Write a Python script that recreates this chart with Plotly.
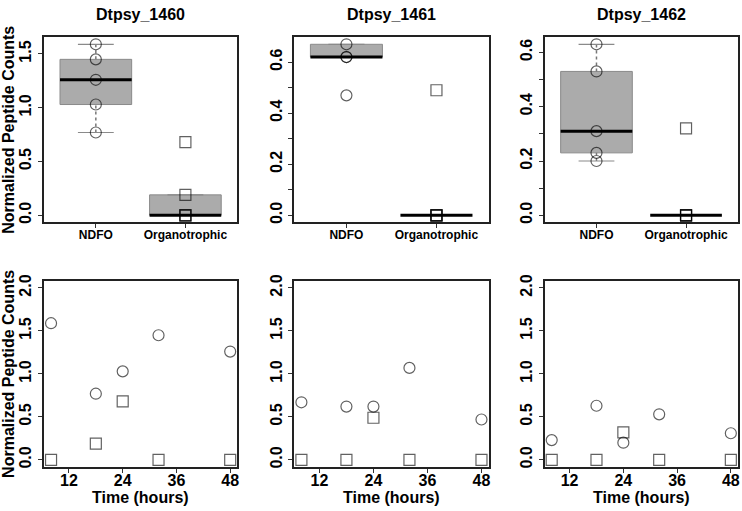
import numpy as np
import plotly.graph_objects as go

# ---------------- data ----------------
proteins = ["Dtpsy_1460", "Dtpsy_1461", "Dtpsy_1462"]
conditions = ["NDFO", "Organotrophic"]
time_hours = [8, 18, 24, 32, 48]

ndfo_1460 = [1.59, 0.77, 1.03, 1.45, 1.26]
org_1460 = [0.0, 0.19, 0.68, 0.0, 0.0]
ndfo_1461 = [0.67, 0.62, 0.62, 1.07, 0.47]
org_1461 = [0.0, 0.0, 0.49, 0.0, 0.0]
ndfo_1462 = [0.23, 0.63, 0.20, 0.53, 0.31]
org_1462 = [0.0, 0.0, 0.32, 0.0, 0.0]

time_ticks = [12, 24, 36, 48]
time_ticklabels = ["12", "24", "36", "48"]
bottom_yticks = [0.0, 0.5, 1.0, 1.5, 2.0]
bottom_yticklabels = ["0.0", "0.5", "1.0", "1.5", "2.0"]
top_yticks_1460 = [0.0, 0.5, 1.0, 1.5]
top_yticklabels_1460 = ["0.0", "0.5", "1.0", "1.5"]
top_yticks_small = [0.0, 0.1, 0.2, 0.3, 0.4, 0.5, 0.6]
top_yticklabels_small = ["0.0", "", "0.2", "", "0.4", "", "0.6"]
bottom_yrange = [0.0, 2.0]

ndfo_sets = [ndfo_1460, ndfo_1461, ndfo_1462]
org_sets = [org_1460, org_1461, org_1462]
top_ticks = [(top_yticks_1460, top_yticklabels_1460),
             (top_yticks_small, top_yticklabels_small),
             (top_yticks_small, top_yticklabels_small)]

# ---------------- helpers ----------------
def fivenum(v):
    x = np.sort(np.asarray(v, float))
    n = len(x)
    n4 = np.floor((n + 3) / 2) / 2
    d = np.array([1, n4, (n + 1) / 2, n + 1 - n4, n]) - 1
    return 0.5 * (x[np.floor(d).astype(int)] + x[np.ceil(d).astype(int)])


def box_stats(v):
    x = np.asarray(v, float)
    _, q1, med, q3, _ = fivenum(x)
    iqr = q3 - q1
    lo = x[x >= q1 - 1.5 * iqr].min()
    hi = x[x <= q3 + 1.5 * iqr].max()
    return lo, q1, med, q3, hi


W, H = 742, 511
cols_px = [(44, 238), (295, 490), (546, 740)]
top_px = (31, 219)
bot_px = (279, 468)

FONT = "Liberation Sans"
BOX_FILL = "#ababab"
BOX_LINE = "#8a8a8a"
PT_COL = "rgba(0,0,0,0.62)"
FRAME = "#222222"

fig = go.Figure()


def xd(c):
    return [c[0] / W, c[1] / W]


def yd(r):
    return [1 - r[1] / H, 1 - r[0] / H]


layout = dict(
    width=W, height=H, margin=dict(l=0, r=0, t=0, b=0),
    paper_bgcolor="white", plot_bgcolor="white", showlegend=False,
    font=dict(family=FONT, color="black"),
)

annotations = []
box_w = 0.8
staple_w = 0.4

for i in range(3):
    ax_top = i + 1
    ax_bot = i + 4
    xs_t = "x" if ax_top == 1 else f"x{ax_top}"
    ys_t = "y" if ax_top == 1 else f"y{ax_top}"
    xs_b = f"x{ax_bot}"
    ys_b = f"y{ax_bot}"

    groups = [ndfo_sets[i], org_sets[i]]
    symbols = ["circle-open", "square-open"]
    stats = [box_stats(g) for g in groups]
    lo_all = min(s[0] for s in stats)
    hi_all = max(s[4] for s in stats)
    pad = 0.04 * (hi_all - lo_all)

    # ---- boxplots ----
    for k, (g, s) in enumerate(zip(groups, stats)):
        c = k + 1
        lo, q1, med, q3, hi = s
        if q3 > q1:
            fig.add_trace(go.Scatter(
                x=[c - box_w / 2, c + box_w / 2, c + box_w / 2, c - box_w / 2, c - box_w / 2],
                y=[q1, q1, q3, q3, q1], mode="lines", fill="toself",
                fillcolor=BOX_FILL, line=dict(color=BOX_LINE, width=1),
                xaxis=xs_t, yaxis=ys_t, hoverinfo="skip"))
        if hi > q3:
            fig.add_trace(go.Scatter(x=[c, c], y=[q3, hi], mode="lines",
                                     line=dict(color="#777777", width=1.5, dash="dot"),
                                     xaxis=xs_t, yaxis=ys_t, hoverinfo="skip"))
        if lo < q1:
            fig.add_trace(go.Scatter(x=[c, c], y=[lo, q1], mode="lines",
                                     line=dict(color="#777777", width=1.5, dash="dot"),
                                     xaxis=xs_t, yaxis=ys_t, hoverinfo="skip"))
        for yv in (lo, hi):
            fig.add_trace(go.Scatter(x=[c - staple_w / 2, c + staple_w / 2], y=[yv, yv],
                                     mode="lines", line=dict(color=BOX_LINE, width=1.2),
                                     xaxis=xs_t, yaxis=ys_t, hoverinfo="skip"))
        fig.add_trace(go.Scatter(x=[c - box_w / 2, c + box_w / 2], y=[med, med],
                                 mode="lines", line=dict(color="black", width=3),
                                 xaxis=xs_t, yaxis=ys_t, hoverinfo="skip"))
    for k, g in enumerate(groups):
        fig.add_trace(go.Scatter(
            x=[k + 1] * len(g), y=g, mode="markers",
            marker=dict(symbol=symbols[k], size=11,
                        color=PT_COL, line=dict(width=1.2, color=PT_COL)),
            cliponaxis=True, xaxis=xs_t, yaxis=ys_t, hoverinfo="skip"))

    # ---- time series panel ----
    for k, g in enumerate(groups):
        fig.add_trace(go.Scatter(
            x=time_hours, y=g, mode="markers",
            marker=dict(symbol=symbols[k], size=11,
                        color=PT_COL, line=dict(width=1.2, color=PT_COL)),
            cliponaxis=True, xaxis=xs_b, yaxis=ys_b, hoverinfo="skip"))

    common = dict(showline=True, mirror=True, linecolor=FRAME, linewidth=2,
                  showgrid=False, zeroline=False, ticks="outside", ticklen=4,
                  tickwidth=1, tickcolor="#333333")

    tv, tt = top_ticks[i]
    layout[f"xaxis{'' if ax_top == 1 else ax_top}"] = dict(
        domain=xd(cols_px[i]), anchor=ys_t, range=[0.42, 2.58],
        tickvals=[1, 2], ticktext=conditions, ticklabelstandoff=-4,
        tickfont=dict(family=FONT, size=12, color="black", weight="bold"), **common)
    layout[f"yaxis{'' if ax_top == 1 else ax_top}"] = dict(
        domain=yd(top_px), anchor=xs_t, range=[lo_all - pad, hi_all + pad],
        tickvals=tv, ticktext=tt, tickangle=-90,
        tickfont=dict(family=FONT, size=16, color="black", weight="bold"), **common)

    t_pad = 0.04 * (max(time_hours) - min(time_hours))
    y_pad = 0.04 * (bottom_yrange[1] - bottom_yrange[0])
    layout[f"xaxis{ax_bot}"] = dict(
        domain=xd(cols_px[i]), anchor=ys_b,
        range=[min(time_hours) - t_pad, max(time_hours) + t_pad],
        tickvals=time_ticks, ticktext=time_ticklabels, ticklabelstandoff=-6,
        tickfont=dict(family=FONT, size=16, color="black", weight="bold"), **common)
    layout[f"yaxis{ax_bot}"] = dict(
        domain=yd(bot_px), anchor=xs_b,
        range=[bottom_yrange[0] - y_pad, bottom_yrange[1] + y_pad],
        tickvals=bottom_yticks, ticktext=bottom_yticklabels, tickangle=-90,
        tickfont=dict(family=FONT, size=16, color="black", weight="bold"), **common)

    cx = (cols_px[i][0] + cols_px[i][1]) / 2 / W
    annotations.append(dict(text=proteins[i], x=cx, y=1 - 8 / H, xref="paper", yref="paper",
                            showarrow=False, xanchor="center", yanchor="middle",
                            font=dict(family=FONT, size=16, color="black", weight="bold")))
    annotations.append(dict(text="Time (hours)", x=cx, y=1 - 499 / H, xref="paper", yref="paper",
                            showarrow=False, xanchor="center", yanchor="middle",
                            font=dict(family=FONT, size=16, color="black", weight="bold")))

for r in (top_px, bot_px):
    annotations.append(dict(text="Normalized Peptide Counts", x=9 / W,
                            y=1 - (r[0] + r[1]) / 2 / H, xref="paper", yref="paper",
                            showarrow=False, textangle=-90, xanchor="center", yanchor="middle",
                            font=dict(family=FONT, size=16, color="black", weight="bold")))

layout["annotations"] = annotations
fig.update_layout(**layout)
fig.write_html("out.html", config={"displayModeBar": False},
               post_script="document.body.style.margin='0';document.body.style.overflow='hidden';")
